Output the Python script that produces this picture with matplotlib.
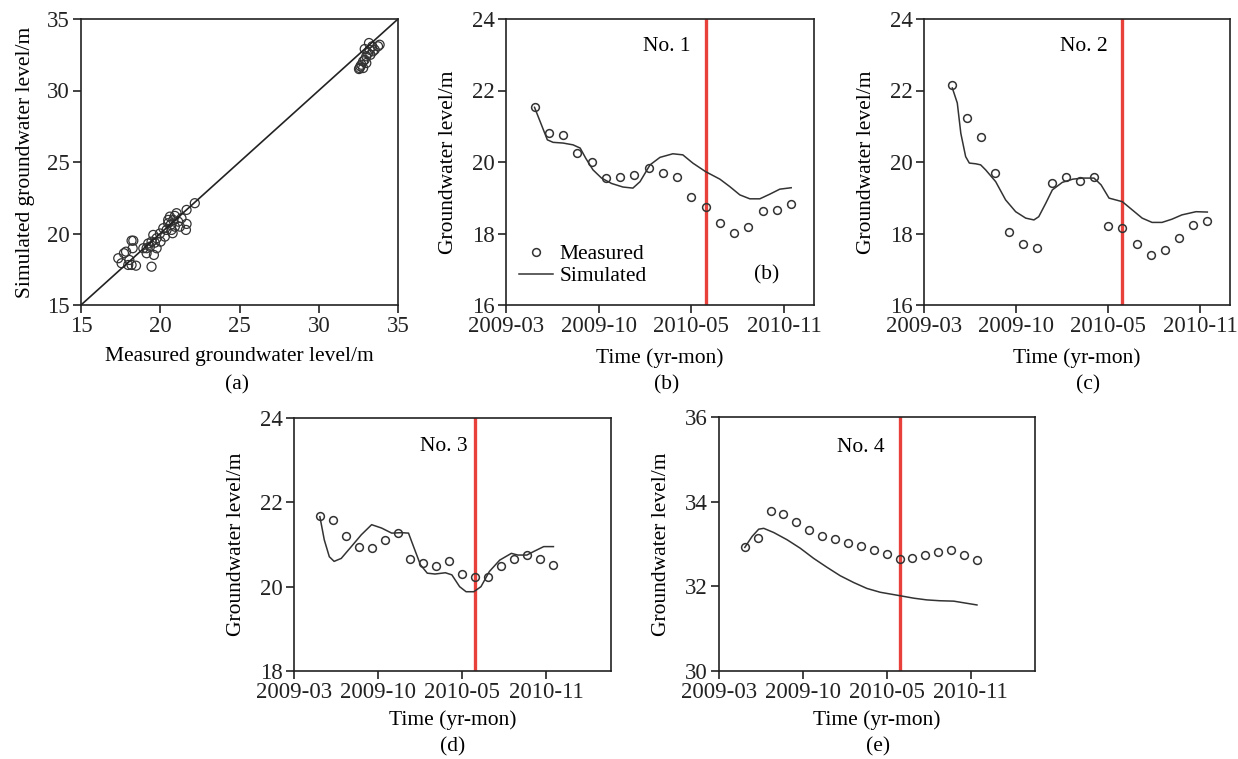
import matplotlib
matplotlib.use('Agg')
import matplotlib.pyplot as plt

plt.rcParams['font.family'] = ['Liberation Serif', 'DejaVu Serif']
plt.rcParams['font.size'] = 15

W, H = 1238, 759

# month index (0 = 2009-03), one measurement per month
months = [2, 3, 4, 5, 6, 7, 8, 9, 10, 11, 12, 13, 14, 15, 16, 17, 18, 19, 20]
tick_pos = [0, 6.5, 13, 19.5]
tick_labels = ['2009-03', '2009-10', '2010-05', '2010-11']
split_month = 14

# well 1
meas1 = [21.53, 20.81, 20.76, 20.25, 20.01, 19.55, 19.59, 19.63, 19.82, 19.70,
         19.59, 19.01, 18.74, 18.29, 18.01, 18.19, 18.63, 18.66, 18.83]
sim1_x = [2, 2.9, 3.3, 4.0, 4.7, 5.2, 5.6, 6.1, 6.7, 7.4, 8.2, 8.9, 9.4, 10.1, 10.8,
          11.7, 12.4, 13.1, 14, 15, 15.7, 16.4, 17.1, 17.8, 18.5, 19.2, 20]
sim1_y = [21.53, 20.62, 20.55, 20.53, 20.48, 20.39, 20.10, 19.78, 19.55, 19.40, 19.30,
          19.27, 19.45, 19.92, 20.13, 20.23, 20.20, 19.97, 19.73, 19.52, 19.31, 19.08,
          18.97, 18.97, 19.10, 19.24, 19.28]

# well 2
meas2 = [22.16, 21.23, 20.70, 19.69, 18.03, 17.72, 17.59, 19.42, 19.57, 19.47,
         19.57, 18.20, 18.15, 17.72, 17.39, 17.55, 17.88, 18.23, 18.36]
sim2_x = [2, 2.35, 2.6, 2.94, 3.2, 3.65, 4.0, 4.35, 5.06, 5.76, 6.47, 7.18, 7.76, 8.1,
          8.6, 9.06, 9.76, 10.5, 11.2, 12.0, 12.5, 13.06, 14, 14.7, 15.4, 16.1, 16.8,
          17.5, 18.2, 19.2, 20]
sim2_y = [22.07, 21.65, 20.80, 20.15, 19.97, 19.95, 19.92, 19.78, 19.45, 18.94, 18.61,
          18.43, 18.38, 18.47, 18.85, 19.22, 19.43, 19.52, 19.55, 19.55, 19.36, 18.99,
          18.89, 18.66, 18.43, 18.31, 18.31, 18.40, 18.52, 18.61, 18.60]

# well 3
meas3 = [21.68, 21.59, 21.19, 20.95, 20.91, 21.11, 21.28, 20.65, 20.57, 20.48,
         20.60, 20.29, 20.22, 20.22, 20.48, 20.65, 20.76, 20.65, 20.52]
sim3_x = [2, 2.34, 2.73, 3.1, 3.65, 4.43, 5.2, 6.0, 6.77, 7.55, 8.33, 8.85, 9.24, 9.77,
          10.3, 10.9, 11.7, 12.2, 12.8, 13.3, 13.9, 14.45, 15.1, 15.9, 16.8, 17.3, 18.0,
          18.5, 19.3, 20.05]
sim3_y = [21.66, 21.11, 20.71, 20.60, 20.67, 20.95, 21.23, 21.47, 21.39, 21.27, 21.28,
          21.27, 20.95, 20.52, 20.32, 20.30, 20.33, 20.28, 20.00, 19.88, 19.88, 20.00,
          20.36, 20.63, 20.79, 20.75, 20.75, 20.83, 20.95, 20.95]

# well 4
meas4 = [32.92, 33.15, 33.78, 33.72, 33.51, 33.33, 33.18, 33.11, 33.02, 32.96,
         32.85, 32.76, 32.65, 32.68, 32.75, 32.82, 32.85, 32.73, 32.62]
sim4_x = [2, 2.57, 3.08, 3.47, 4.25, 5.28, 6.3, 7.34, 8.37, 9.4, 10.44, 11.47, 12.5,
          14, 15.1, 16.1, 17.1, 18.2, 19.2, 20]
sim4_y = [32.92, 33.18, 33.35, 33.37, 33.27, 33.10, 32.90, 32.66, 32.45, 32.25, 32.09,
          31.95, 31.86, 31.78, 31.72, 31.68, 31.66, 31.65, 31.60, 31.56]

# panel (a): measured vs simulated
scat_meas = [17.35, 17.56, 17.71, 17.84, 17.98, 18.19, 18.26, 18.19, 18.47, 19.14,
             19.45, 19.60, 19.35, 19.56, 19.77, 19.98, 20.19, 20.29, 20.50, 20.61,
             20.71, 20.82, 21.03, 21.24, 21.34, 21.62, 21.66, 21.66, 22.18, 18.93,
             19.24, 19.45, 19.66, 20.40, 20.50, 20.65, 20.78, 20.92, 21.13, 20.92,
             20.02, 19.77, 19.14, 18.05, 18.30,
             32.54, 32.63, 32.69, 32.80, 32.90, 33.00, 33.11, 33.21, 33.38, 33.53,
             33.74, 33.84, 33.17, 32.90, 32.80, 32.58, 33.00, 33.26, 33.42]
scat_sim = [18.27, 17.92, 18.62, 18.73, 17.80, 19.50, 18.97, 17.80, 17.75, 18.97,
            17.68, 18.50, 19.08, 19.90, 19.67, 20.00, 20.37, 19.78, 20.72, 21.18,
            20.25, 20.95, 21.42, 20.48, 21.07, 20.25, 20.67, 21.65, 22.12, 18.97,
            19.30, 19.43, 19.36, 20.25, 20.95, 20.60, 20.02, 21.23, 20.83, 20.48,
            19.43, 18.97, 18.62, 18.15, 19.50,
            31.50, 31.69, 31.80, 32.04, 32.15, 32.39, 32.62, 32.85, 33.09, 32.85,
            33.09, 33.20, 33.32, 32.90, 31.57, 31.57, 31.92, 32.50, 32.74]


def px_axes(left, right, top, bottom):
    return fig.add_axes([left / W, 1 - bottom / H, (right - left) / W, (bottom - top) / H])


def style(ax):
    for s in ax.spines.values():
        s.set_linewidth(1.2)
        s.set_color('#222222')
    ax.tick_params(direction='out', length=6, width=1.2, top=False, right=False,
                   labelsize=16.5, pad=2, colors='#222222')


fig = plt.figure(figsize=(W / 100, H / 100), dpi=100)

ax = px_axes(81, 398, 19, 305)
style(ax)
ax.plot([15, 35], [15, 35], color='#222222', lw=1.2)
ax.scatter(scat_meas, scat_sim, s=42, facecolors='none', edgecolors='#333333', linewidths=0.9)
ax.set_xlim(15, 35)
ax.set_ylim(15, 35)
ax.set_xticks([15, 20, 25, 30, 35])
ax.set_yticks([15, 20, 25, 30, 35])
ax.set_xlabel('Measured groundwater level/m', fontsize=15.5, labelpad=7)
ax.set_ylabel('Simulated groundwater level/m', fontsize=15.5, labelpad=9)

# box (px), measured, sim x, sim y, ylim, yticks, xmax, name, name pos, xlabel pad
panels = [
    ((506, 814, 19, 305), meas1, sim1_x, sim1_y, (16, 24), [16, 18, 20, 22, 24], 21.6, 'No. 1', (11.25, 23.23), 8),
    ((924, 1230, 19, 305), meas2, sim2_x, sim2_y, (16, 24), [16, 18, 20, 22, 24], 21.6, 'No. 2', (11.3, 23.23), 8),
    ((294, 611, 418, 671), meas3, sim3_x, sim3_y, (18, 24), [18, 20, 22, 24], 24.5, 'No. 3', (11.6, 23.33), 5),
    ((719, 1035, 417, 671), meas4, sim4_x, sim4_y, (30, 36), [30, 32, 34, 36], 24.5, 'No. 4', (11.0, 35.29), 5),
]

axes = []
for box, meas, sx, sy, ylim, yt, xmax, name, npos, xpad in panels:
    ax = px_axes(*box)
    style(ax)
    ax.axvline(split_month, color='#e8403a', lw=2.4, zorder=1)
    ax.plot(sx, sy, color='#333333', lw=1.1, label='Simulated', zorder=2)
    ax.plot(months, meas, 'o', ms=5.6, mfc='none', mec='#333333', mew=1.1,
            label='Measured', zorder=3)
    ax.set_xlim(0, xmax)
    ax.set_ylim(*ylim)
    ax.set_yticks(yt)
    ax.set_xticks(tick_pos)
    ax.set_xticklabels(tick_labels)
    ax.set_xlabel('Time (yr-mon)', fontsize=15.5, labelpad=xpad)
    ax.set_ylabel('Groundwater level/m', fontsize=15.5, labelpad=10)
    ax.text(npos[0], npos[1], name, ha='center', va='center', fontsize=15.5)
    axes.append(ax)

h, l = axes[0].get_legend_handles_labels()
axes[0].legend([h[1], h[0]], [l[1], l[0]], loc='lower left', frameon=False,
               fontsize=15.5, handlelength=1.6, handletextpad=0.3, labelspacing=0.1,
               borderaxespad=0.2, bbox_to_anchor=(0.0, 0.02))
axes[0].text(18.27, 16.84, '(b)', ha='center', va='center', fontsize=15.5)

for lab, x, y in [('(a)', 237, 385), ('(b)', 667, 385), ('(c)', 1088, 385),
                  ('(d)', 453, 747), ('(e)', 878, 747)]:
    fig.text(x / W, 1 - y / H, lab, ha='center', va='center', fontsize=15.5)

fig.savefig('out.png', dpi=100)
